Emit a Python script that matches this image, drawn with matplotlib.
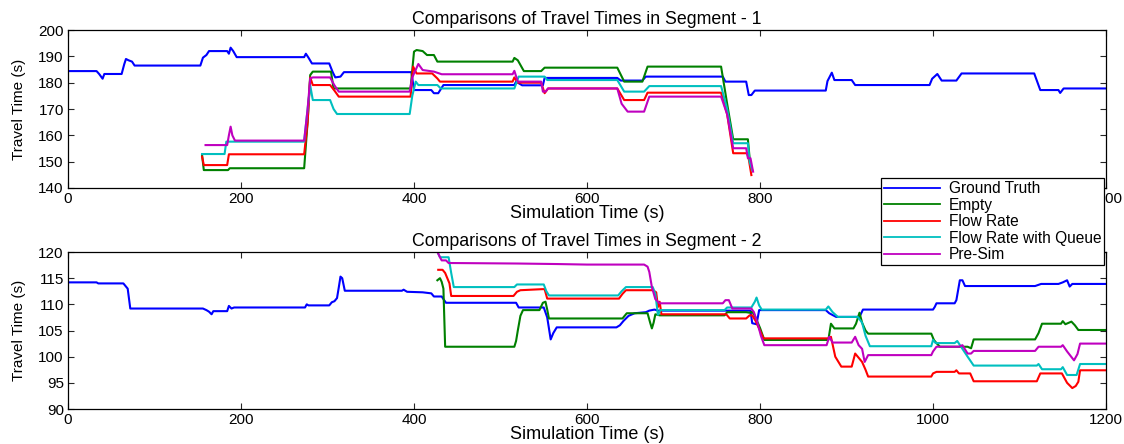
""" Comparaison des temps de parcours - segments 1 et 2 """
import numpy as np
import matplotlib
matplotlib.use('Agg')
import matplotlib.pyplot as plt

plt.rcParams['font.family'] = ['Liberation Sans', 'DejaVu Sans']

#%%
# Donnees : segment 1
gt1_x = [0, 33, 36, 40, 42, 44, 62, 65, 67, 70, 74, 77, 153, 156, 160, 163, 184, 186, 188, 191, 195,
         273, 275, 278, 282, 302, 306, 309, 315, 319, 397, 400, 420, 423, 428, 434, 516, 518, 525, 549,
         551, 635, 639, 664, 668, 757, 760, 784, 787, 790, 794, 876, 878, 883, 886, 906, 910, 996, 999,
         1005, 1010, 1027, 1033, 1117, 1124, 1145, 1147, 1151, 1200]
gt1_y = [184.4, 184.4, 183.3, 181.5, 183.3, 183.3, 183.3, 187, 189, 188.5, 188, 186.5, 186.5, 189.5,
         190.5, 192, 192, 191, 193.3, 192, 189.7, 189.7, 191, 189.5, 187.3, 187.3, 184, 182, 182.3, 184,
         184, 177.2, 177.2, 176, 176, 179.1, 179.1, 180.4, 179, 179, 181.8, 181.8, 180.8, 180.8, 182.3,
         182.3, 180.4, 180.4, 175.3, 175.3, 177, 177, 180.6, 183.8, 181, 181, 179.1, 179.1, 181.5, 183.3,
         180.8, 180.8, 183.5, 183.5, 177.2, 177.2, 176.1, 177.8, 177.8]

emp1_x = [155, 157, 185, 187, 273, 277, 280, 283, 304, 307, 396, 400, 403, 410, 415, 423, 427, 514, 516,
          520, 527, 547, 551, 635, 643, 664, 670, 755, 762, 769, 786, 788, 790]
emp1_y = [152.5, 146.8, 146.8, 147.5, 147.5, 165, 182.9, 184.2, 184.2, 177.8, 177.8, 191.8, 192.4, 192,
          190.5, 190.5, 188, 188, 189.4, 188.5, 184.4, 184.4, 185.7, 185.7, 180.4, 180.4, 186.1, 186.1,
          172, 158.5, 158.5, 151.3, 148]

fr1_x = [155, 157, 184, 186, 273, 277, 280, 283, 303, 308, 313, 396, 399, 403, 421, 427, 430, 514, 516,
         520, 547, 551, 555, 635, 643, 666, 670, 755, 762, 769, 785, 787, 790]
fr1_y = [151.9, 148.7, 148.7, 152.8, 152.8, 165, 182, 179.1, 179.1, 177, 174.7, 174.7, 186.1, 183.5,
         183.5, 181.6, 180.4, 180.4, 182, 180, 180, 176, 177.8, 177.8, 173.4, 173.4, 176.2, 176.2, 168,
         153.2, 153.2, 151, 144.9]

frq1_x = [155, 181, 183, 273, 277, 280, 283, 303, 307, 311, 395, 398, 402, 405, 427, 431, 516, 521, 551,
          554, 635, 643, 666, 672, 755, 762, 769, 786, 788, 791]
frq1_y = [152.9, 152.9, 157.6, 157.6, 170, 179, 173.4, 173.4, 170, 168.1, 168.1, 175, 180.4, 179.1,
          179.1, 177.8, 177.8, 182.3, 182.3, 181, 181, 176.6, 176.6, 178.7, 178.7, 170, 157, 157, 150,
          146.8]

ps1_x = [159, 184, 186, 188, 190, 193, 273, 277, 280, 283, 303, 308, 313, 395, 398, 405, 410, 423, 432,
         514, 516, 520, 547, 549, 552, 555, 635, 640, 647, 666, 672, 755, 762, 769, 784, 786, 789, 792]
ps1_y = [156.3, 156.3, 160, 163.3, 160, 158, 158, 170, 181.6, 182, 182, 179, 176.6, 176.6, 182, 187.1,
         184.8, 184.2, 183.2, 183.2, 184.5, 180.4, 180.4, 176.6, 176.6, 177.8, 177.8, 172, 169, 169,
         174.7, 174.7, 168, 155.1, 155.1, 151.3, 151.3, 146.2]

# Donnees : segment 2
gt2_x = [0, 33, 35, 64, 67, 69, 72, 156, 160, 163, 166, 168, 184, 186, 189, 192, 274, 276, 278, 302,
         305, 308, 311, 313, 315, 317, 320, 386, 388, 392, 410, 420, 423, 432, 434, 437, 518, 521, 550,
         554, 558, 561, 565, 634, 638, 642, 648, 655, 668, 672, 678, 682, 789, 791, 796, 799, 876, 880,
         888, 915, 919, 1000, 1002, 1004, 1025, 1027, 1031, 1034, 1037, 1118, 1125, 1145, 1150, 1155,
         1158, 1161, 1200]
gt2_y = [114.2, 114.2, 114.0, 114.0, 113.4, 113.0, 109.2, 109.2, 108.9, 108.6, 108.1, 108.7, 108.7,
         109.7, 109.2, 109.4, 109.4, 110.0, 109.8, 109.8, 110.4, 110.6, 111.2, 113.2, 115.3, 115.0,
         112.6, 112.6, 112.8, 112.4, 112.3, 112.1, 111.5, 111.5, 111.0, 110.3, 110.3, 109.4, 109.4,
         107.5, 103.3, 104.5, 105.6, 105.6, 106.0, 106.8, 107.8, 108.3, 108.5, 108.8, 109.0, 108.8,
         108.8, 106.4, 106.2, 108.9, 108.9, 108.3, 107.6, 107.6, 109.0, 109.0, 109.5, 110.2, 110.2,
         110.8, 114.6, 114.6, 113.5, 113.5, 113.9, 113.9, 114.2, 114.6, 113.4, 113.9, 113.9]

emp2_x = [427, 430, 432, 434, 436, 516, 518, 520, 523, 526, 545, 549, 552, 554, 556, 641, 646, 670, 673,
          675, 677, 679, 684, 759, 762, 784, 788, 791, 794, 800, 805, 879, 882, 886, 908, 911, 915, 918,
          922, 925, 998, 1001, 1004, 1008, 1040, 1044, 1047, 1118, 1122, 1126, 1148, 1150, 1153, 1160,
          1164, 1168, 1200]
emp2_y = [114.6, 115.0, 114.3, 113, 101.9, 101.9, 103, 105.0, 107.8, 108.9, 108.9, 110.3, 110.5, 109,
          107.3, 107.3, 108.3, 108.3, 106.5, 105.4, 106.5, 108.1, 107.9, 107.9, 108.5, 108.5, 108.4,
          108.6, 107.8, 105.5, 103.2, 103.2, 106.3, 105.4, 105.4, 106.3, 108.4, 106.5, 105, 104.4, 104.4,
          103.2, 102.6, 101.9, 101.9, 101.6, 103.3, 103.3, 104.5, 106.3, 106.3, 106.8, 106.2, 106.7,
          106.0, 105.1, 105.1]

fr2_x = [428, 433, 436, 441, 443, 515, 519, 523, 548, 551, 554, 637, 641, 645, 676, 680, 682, 684, 686,
         761, 765, 784, 788, 791, 795, 800, 804, 879, 882, 887, 894, 906, 910, 913, 918, 922, 925, 998,
         1000, 1004, 1025, 1027, 1030, 1043, 1047, 1120, 1124, 1149, 1155, 1161, 1165, 1168, 1170, 1200]
fr2_y = [116.6, 116.6, 116.0, 114.0, 111.6, 111.6, 112.4, 112.7, 112.9, 112.9, 111.1, 111.1, 112.0,
         112.7, 112.7, 112.3, 109.5, 110.5, 108.1, 108.1, 107.3, 107.3, 107.9, 107.9, 106.8, 105, 103.5,
         103.5, 103.8, 100, 98.1, 98.1, 100.6, 100.0, 99.0, 97.5, 96.2, 96.2, 96.8, 97.1, 97.1, 97.4,
         96.8, 96.8, 95.3, 95.3, 96.8, 96.8, 95.0, 94.0, 94.4, 95.2, 97.4, 97.4]

frq2_x = [428, 430, 440, 443, 446, 516, 519, 550, 553, 556, 636, 640, 645, 676, 679, 682, 685, 759, 762,
          790, 794, 796, 799, 802, 876, 879, 884, 890, 913, 918, 922, 927, 998, 1000, 1003, 1025, 1028,
          1032, 1040, 1047, 1120, 1122, 1126, 1148, 1150, 1155, 1166, 1170, 1200]
frq2_y = [119.7, 119.0, 119.0, 116, 113.3, 113.3, 113.8, 113.8, 112.5, 111.7, 111.7, 112.5, 113.3,
          113.3, 112, 108.0, 108.9, 108.9, 109.4, 109.4, 110.5, 111.3, 109.8, 109.0, 109.0, 109.6, 108.5,
          107.6, 107.6, 106.5, 104, 102.0, 102.0, 103.2, 102.6, 102.6, 103.0, 102.0, 100, 98.3, 98.3,
          98.6, 97.6, 97.6, 98.0, 96.5, 96.5, 98.6, 98.6]

ps2_x = [428, 430, 432, 437, 440, 520, 566, 600, 666, 670, 672, 675, 679, 684, 757, 760, 764, 768, 790,
         793, 797, 801, 805, 877, 880, 884, 906, 910, 914, 918, 921, 925, 998, 1000, 1004, 1030, 1034,
         1040, 1044, 1047, 1118, 1122, 1148, 1150, 1155, 1163, 1167, 1170, 1200]
ps2_y = [119.7, 119.0, 118.4, 118.4, 117.9, 117.8, 117.7, 117.6, 117.6, 117.2, 116.2, 113.3, 111.0,
         110.2, 110.2, 110.8, 110.8, 109.2, 109.2, 108.5, 106.5, 104, 102.2, 102.2, 103.8, 102.7, 102.7,
         103.8, 102.2, 101.5, 99.0, 100.3, 100.3, 101.0, 101.9, 101.9, 102.2, 100.6, 100.6, 101.1,
         101.1, 101.9, 101.9, 102.2, 101, 99.3, 100.5, 102.5, 102.5]

noms = ['Ground Truth', 'Empty', 'Flow Rate', 'Flow Rate with Queue', 'Pre-Sim']
couleurs = ['#0000ff', '#008000', '#ff0000', '#00bfbf', '#bf00bf']

seg1 = [(gt1_x, gt1_y), (emp1_x, emp1_y), (fr1_x, fr1_y), (frq1_x, frq1_y), (ps1_x, ps1_y)]
seg2 = [(gt2_x, gt2_y), (emp2_x, emp2_y), (fr2_x, fr2_y), (frq2_x, frq2_y), (ps2_x, ps2_y)]

# %%
fig = plt.figure(figsize=(11.24, 4.44), dpi=100)
ax1 = fig.add_axes([0.0605, 0.5766, 0.9235, 0.3558])
ax2 = fig.add_axes([0.0605, 0.0788, 0.9235, 0.3536])


def trace(ax, series, titre, ylim, yticks):
    lignes = []
    for (x, y), nom, c in zip(series, noms, couleurs):
        l, = ax.plot(x, y, color=c, lw=1.5, label=nom)
        lignes.append(l)
    ax.set_xlim(0, 1200)
    ax.set_ylim(*ylim)
    ax.set_xticks(np.arange(0, 1201, 200))
    ax.set_yticks(yticks)
    ax.tick_params(direction='in', top=True, right=True, length=4, width=0.8,
                   labelsize=11, pad=3, colors='#262626', labelcolor='black')
    for s in ax.spines.values():
        s.set_linewidth(0.9)
    ax.set_title(titre, fontsize=12.8, pad=4)
    ax.set_xlabel('Simulation Time (s)', fontsize=13, labelpad=-1)
    ax.set_ylabel('Travel Time (s)', fontsize=11, labelpad=9)
    return lignes


lignes = trace(ax1, seg1, 'Comparisons of Travel Times in Segment - 1', (140, 200), np.arange(140, 201, 10))
trace(ax2, seg2, 'Comparisons of Travel Times in Segment - 2', (90, 120), np.arange(90, 121, 5))

leg = fig.legend(lignes, noms, loc='upper left', bbox_to_anchor=(881 / 1124, 1 - 178 / 444),
                 bbox_transform=fig.transFigure, fontsize=11.2, frameon=True, fancybox=False,
                 framealpha=1, edgecolor='black', handlelength=3.6, handletextpad=0.55,
                 borderpad=0.2, labelspacing=0.1, borderaxespad=0)
leg.get_frame().set_linewidth(0.9)
for h in leg.get_lines():
    h.set_linewidth(1.3)

# Sauvegarde la figure
plt.savefig('out.png', dpi=100)
